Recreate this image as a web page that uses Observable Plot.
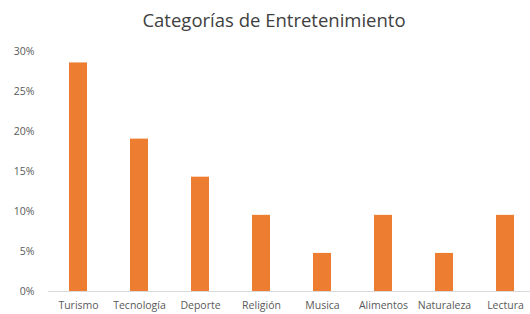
<!DOCTYPE html>
<html>
<head>
<meta charset="utf-8">
<script src="https://cdn.jsdelivr.net/npm/d3@7"></script>
<script src="https://cdn.jsdelivr.net/npm/@observablehq/plot@0.6"></script>
<style>
  html, body { margin: 0; padding: 0; background: #fff; }
  #title { height: 40px; width: 512px; padding-left: 18px; text-align: center; font-family: "Open Sans", sans-serif;
    font-size: 18.5px; color: #404040; line-height: 40px; }
  #chart svg { display: block; }
</style>
</head>
<body>
<div id="title">Categorías de Entretenimiento</div>
<div id="chart"></div>
<script>
const categories = ["Turismo", "Tecnología", "Deporte", "Religión", "Musica", "Alimentos", "Naturaleza", "Lectura"];
const values = [0.2857, 0.1905, 0.1429, 0.0952, 0.0476, 0.0952, 0.0476, 0.0952];
const yTicks = [0, 0.05, 0.10, 0.15, 0.20, 0.25, 0.30];

const data = categories.map((c, i) => ({category: c, value: values[i]}));

const chart = Plot.plot({
  width: 530,
  height: 274,
  marginTop: 11,
  marginBottom: 23,
  marginLeft: 48,
  marginRight: 0,
  style: {fontFamily: "Open Sans, sans-serif", fontSize: "10.5px", color: "#595959", background: "#fff"},
  x: {domain: categories, range: [48, 536], paddingInner: 0.7, paddingOuter: 0.35, align: 0.5, label: null, tickSize: 0, tickPadding: 10},
  y: {domain: [0, 0.30], ticks: yTicks, tickFormat: d => Math.round(d * 100) + "%", label: null, tickSize: 0, tickPadding: 14},
  marks: [
    Plot.ruleY([0], {stroke: "#d9d9d9", strokeWidth: 1}),
    Plot.barY(data, {x: "category", y: "value", fill: "#ED7D31"})
  ]
});
document.getElementById("chart").appendChild(chart);
</script>
</body>
</html>
